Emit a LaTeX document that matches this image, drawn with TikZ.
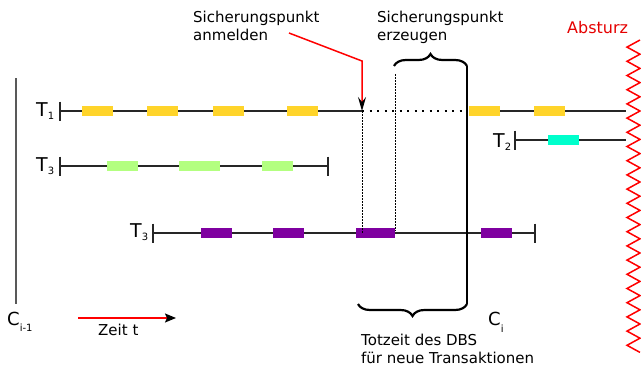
\documentclass[tikz,border=0pt]{standalone}
\usepackage{fontspec}
\setmainfont{DejaVu Sans}
\usetikzlibrary{arrows.meta,decorations.pathreplacing}

\definecolor{opyellow}{HTML}{FFD42A}
\definecolor{opgreen}{HTML}{B3FF80}
\definecolor{oppurple}{HTML}{7F00A0}
\definecolor{opcyan}{HTML}{00FFCC}
\definecolor{crashred}{HTML}{FF0000}

% letter with a lowered small index, e.g. T_1 or C_{i-1}
\newcommand\withsub[3]{#1\raisebox{-#3}{\fontsize{10}{10}\selectfont #2}}

\begin{document}
\begin{tikzpicture}[x=1pt,y=-1pt,
  txt/.style={inner sep=0pt, font=\fontsize{15}{18}\selectfont, align=left},
  tlabel/.style={inner sep=0pt, anchor=base west, font=\fontsize{19}{19}\selectfont},
  clabel/.style={inner sep=0pt, anchor=base west, font=\fontsize{18}{18}\selectfont},
  tline/.style={line width=1.3pt, black!85},
  op/.style={draw=none, minimum width=31pt, minimum height=10pt, inner sep=0pt, anchor=west},
  fine dots/.style={line width=0.8pt, dash pattern=on 1.5pt off 1.5pt},
  coarse dots/.style={line width=1.5pt, dash pattern=on 2pt off 5.5pt},
  redarrow/.style={line width=1.5pt, crashred, -{Stealth[black, length=14pt, width=8pt, inset=5pt]}},
  timearrow/.style={line width=1.5pt, crashred, -{Stealth[black, length=11pt, width=9pt, inset=2pt]}},
  curly/.style={line width=2.2pt, decorate, decoration={brace, amplitude=12pt}},
]
\useasboundingbox (0,0) rectangle (641,367);

% ---- checkpoint C_{i-1}
\coordinate (ci1top) at (16,78);
\coordinate (ci1bot) at (16,304);
\draw[line width=1.4pt, black!65] (ci1top) -- (ci1bot);
\node[clabel] (ci1) at (7,325) {\withsub{C}{i-1}{6pt}};

% ---- time axis
\coordinate (z0) at (78,318);
\coordinate (z1) at (176,318);
\draw[timearrow] (z0) -- (z1);
\node[txt, anchor=base west] (zeit) at (98,335) {Zeit t};

% ---- transaction T1
\coordinate (t1s) at (60,111);
\coordinate (t1cp) at (362,111);
\coordinate (t1gap) at (465,111);
\coordinate (t1r) at (469,111);
\coordinate (t1e) at (626,111);
\draw[tline] (t1s) -- (t1cp);
\draw[tline] (t1s) ++(0,-9.5) -- ++(0,19);
\draw[coarse dots] (t1cp) -- (t1gap);
\draw[tline] (t1r) -- (t1e);
\node[op, fill=opyellow] (y1) at (82,111) {};
\node[op, fill=opyellow] (y2) at (147,111) {};
\node[op, fill=opyellow] (y3) at (213,111) {};
\node[op, fill=opyellow] (y4) at (287,111) {};
\node[op, fill=opyellow] (y5) at (469,111) {};
\node[op, fill=opyellow] (y6) at (534,111) {};
\node[tlabel] (lt1) at (36,116) {\withsub{T}{1}{3pt}};

% ---- transaction T2
\coordinate (t2s) at (515,140);
\coordinate (t2e) at (626,140);
\draw[tline] (t2s) -- (t2e);
\draw[tline] (t2s) ++(0,-9.5) -- ++(0,19);
\node[op, fill=opcyan] (c1) at (548,140) {};
\node[tlabel] (lt2) at (493,147) {\withsub{T}{2}{3pt}};

% ---- first transaction T3
\coordinate (t3s) at (60,166);
\coordinate (t3e) at (328,166);
\draw[tline] (t3s) -- (t3e);
\draw[tline] (t3s) ++(0,-9.5) -- ++(0,19);
\draw[tline] (t3e) ++(0,-9.5) -- ++(0,19);
\node[op, fill=opgreen] (g1) at (107,166) {};
\node[op, fill=opgreen, minimum width=41pt] (g2) at (179,166) {};
\node[op, fill=opgreen] (g3) at (262,166) {};
\node[tlabel] (lt3) at (36,171) {\withsub{T}{3}{3pt}};

% ---- second transaction T3
\coordinate (u3s) at (153,233);
\coordinate (u3e) at (535,233);
\draw[tline] (u3s) -- (u3e);
\draw[tline] (u3s) ++(0,-9.5) -- ++(0,19);
\draw[tline] (u3e) ++(0,-9.5) -- ++(0,19);
\node[op, fill=oppurple] (p1) at (201,233) {};
\node[op, fill=oppurple] (p2) at (273,233) {};
\node[op, fill=oppurple, minimum width=39pt] (p3) at (356,233) {};
\node[op, fill=oppurple] (p4) at (481,233) {};
\node[tlabel] (lu3) at (130,237) {\withsub{T}{3}{3pt}};

% ---- checkpoint phases
\coordinate (regtop) at (362,111);
\coordinate (regbot) at (362,233);
\coordinate (gentop) at (395,74);
\coordinate (genbot) at (395,231);
\draw[fine dots] (regtop) -- (regbot);
\draw[fine dots] (gentop) -- (genbot);

\coordinate (citop) at (467,66);
\coordinate (cibot) at (467,304);
\draw[line width=1.3pt] (citop) -- (cibot);
\node[clabel] (ci) at (488,325) {\withsub{C}{i}{7pt}};

% braces
\coordinate (bt0) at (394,66);
\draw[curly] (bt0) -- (citop);
\coordinate (bb0) at (358,304);
\draw[curly] (cibot) -- (bb0);

% texts
\node[txt, anchor=north west] (anm) at (193,10.5) {Sicherungspunkt\\anmelden};
\node[txt, anchor=north west] (erz) at (377,10.5) {Sicherungspunkt\\erzeugen};
\node[txt, anchor=north west] (tot) at (361,333.6) {Totzeit des DBS\\für neue Transaktionen};

% arrow from the label to the checkpoint request
\coordinate (anmfrom) at (289,33);
\coordinate (anmbend) at (362,61);
\draw[redarrow] (anmfrom) -- (anmbend) -- (regtop);

% ---- crash
\node[inner sep=0pt, anchor=base west, text=crashred!90!black, font=\fontsize{16}{16}\selectfont] (abs) at (567,33) {Absturz};
\draw[crashred, line width=1.5pt, line join=miter]
  (640,40) \foreach \k in {1,...,22} { -- (627,{40+14.2*\k-7.1}) -- (640,{40+14.2*\k}) };
\end{tikzpicture}
\end{document}
